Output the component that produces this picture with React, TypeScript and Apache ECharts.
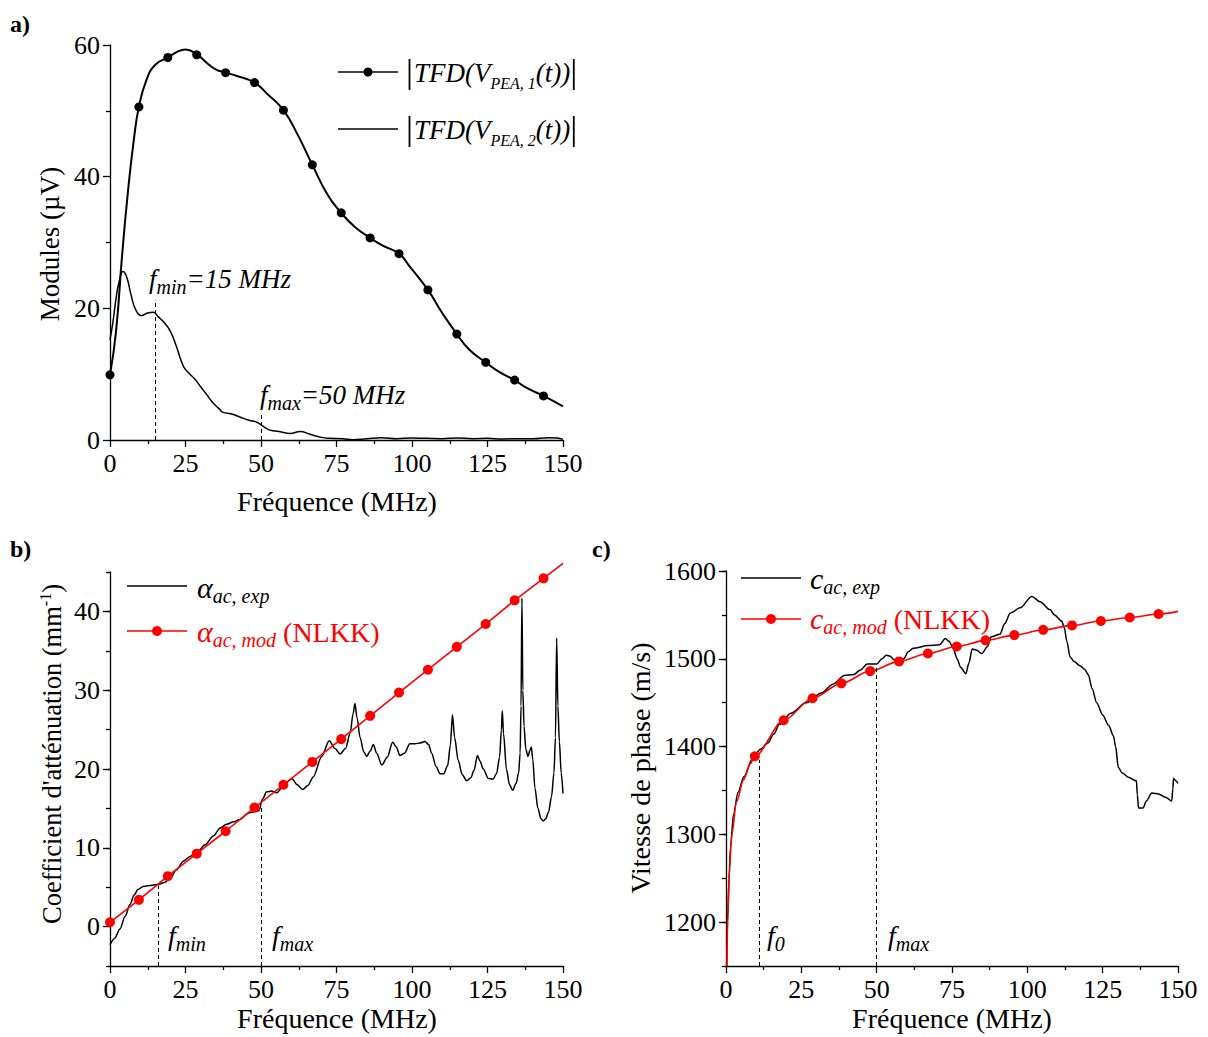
import React, { useEffect, useRef } from "react";
import * as echarts from "echarts";

const FONT = "'Liberation Serif', 'Times New Roman', Times, serif";
const RED = "#ff0000";
const BLACK = "#000000";

// ---------- shared: frequency of the symbol markers (MHz)
const markX = [0, 9.57, 19.14, 28.71, 38.28, 47.85, 57.42, 66.99, 76.56, 86.13, 95.7, 105.27, 114.84, 124.41, 133.98, 143.55];

// ---------- a) |TFD(V_PEA,1)| and |TFD(V_PEA,2)| (µV)
const aMarkY1 = [9.9, 50.6, 58.1, 58.5, 55.8, 54.3, 50.1, 41.8, 34.5, 30.7, 28.3, 22.8, 16.1, 11.8, 9.1, 6.7];
const aCurve1: [number, number][] = [
  [0, 9.9], [2, 16.5], [4, 28], [6, 38], [8, 46], [9.57, 50.6], [12, 54.6], [15, 57], [19.14, 58.1], [22, 58.9],
  [25, 59.3], [28.71, 58.6], [32, 57.3], [35, 56.3], [38.28, 55.8], [42, 55.3], [47.85, 54.3], [52, 52.6],
  [57.42, 50.1], [62, 46.5], [66.99, 41.8], [72, 37.3], [76.56, 34.5], [81, 32.4], [86.13, 30.7], [90, 29.6],
  [95.7, 28.3], [99, 26.5], [105.27, 22.8], [110, 19.3], [114.84, 16.1], [119, 13.7], [124.41, 11.8], [129, 10.3],
  [133.98, 9.1], [138, 7.9], [143.55, 6.7], [150, 5.1],
];
const aCurve2: [number, number][] = [
  [0, 15.2], [1, 18], [2, 21.5], [3, 24], [4.3, 25.6], [5.5, 24.8], [7, 22], [8.5, 19.8], [10.5, 18.9], [12.5, 19.3],
  [14.3, 19.4], [16, 18.7], [18, 17.8], [20, 16.5], [22, 14.2], [24.3, 11.2], [26, 10.2], [28, 9.3], [30, 8.1],
  [32, 6.9], [34, 5.7], [36, 4.8], [37.5, 4.2], [40, 4.0], [43, 3.5], [46, 3.0], [48.6, 2.7], [51, 2.0], [53, 1.5],
  [56, 1.3], [59.6, 1.0], [63, 1.3], [66, 0.9], [70, 0.4], [73, 0.26], [77, 0.2], [80.5, 0.05], [85, 0.2], [90, 0.35],
  [95, 0.2], [100, 0.3], [105, 0.25], [110, 0.2], [115, 0.3], [120, 0.2], [125, 0.25], [130, 0.15], [135, 0.2],
  [140, 0.2], [145, 0.35], [148, 0.3], [150, 0.1],
];
const aGuides: [number, number][] = [[15, 21.3], [50, 4.3]];

// ---------- b) attenuation coefficient (mm^-1)
const bExp: [number, number][] = [
  [0, -2.3], [1.5, -1.5], [3.3, -0.3], [5, 1.3], [6.6, 2.8], [8, 4.0], [9.2, 4.7], [11, 5.1], [14, 5.25], [16, 5.35],
  [18, 5.6], [19.9, 6.1], [22, 7.2], [24.3, 8.3], [26.5, 8.9], [28.7, 9.4], [31.5, 10.4], [34.2, 11.5], [36.5, 12.5],
  [38.6, 13.0], [41, 13.3], [43, 13.6], [45.8, 14.4], [48, 14.6], [49.3, 14.7], [50.5, 16.2], [51.9, 17.1],
  [53.5, 17.2], [55.2, 17.0], [57.9, 18.1], [60.2, 18.8], [62, 18.0], [63.8, 17.4], [65.5, 17.9], [67.3, 19.0],
  [70.1, 21.6], [72.6, 23.6], [74.5, 22.6], [76.2, 21.9], [78, 22.6], [79.5, 24.5], [80.5, 27], [81.1, 28.3],
  [81.8, 26.5], [82.8, 24.0], [84, 22.2], [85, 21.6], [86.2, 22.3], [87.2, 23.1], [88.3, 22.0], [90, 20.5],
  [91.8, 21.5], [93.6, 23.4], [94.8, 22.8], [96, 21.7], [97.5, 22.0], [99.3, 23.2], [101, 23.2], [102.6, 23.3],
  [104.3, 23.5], [105.5, 23.1], [106.5, 22.0], [108, 20.3], [109.3, 19.4], [110.5, 19.4], [111.8, 20.4],
  [112.7, 23], [113.4, 26.9], [114.1, 24], [115.3, 21.1], [116.6, 19.3], [118.1, 18.5], [119.5, 18.9],
  [120.5, 19.8], [121.7, 21.7], [122.5, 21.0], [123.6, 20.0], [125.3, 18.8], [126.8, 18.7], [128, 19.4],
  [129, 21.5], [129.6, 25], [129.9, 27.4], [130.3, 24.5], [131.3, 19.9], [132.3, 18.0], [133.3, 17.3],
  [134.5, 18.2], [135.3, 19.5], [135.8, 22], [136.1, 28], [136.4, 41.7], [136.7, 30], [137.1, 25.4],
  [137.7, 22.5], [138.4, 21.6], [139.1, 22.4], [139.5, 22.8], [140, 21.2], [140.7, 17.6], [141.7, 15],
  [142.7, 13.7], [143.5, 13.4], [144.3, 13.7], [145.2, 14.5], [146.2, 16.5], [147, 19.5], [147.5, 24],
  [147.9, 36.6], [148.3, 28], [148.8, 23.5], [149.4, 19.5], [150, 16.9],
];
const bModMarkY = [0.55, 3.4, 6.4, 9.26, 12.1, 15.1, 18.0, 20.9, 23.8, 26.75, 29.7, 32.6, 35.5, 38.4, 41.4, 44.2];
const bModEnd: [number, number] = [150, 46.1];
const bGuides: [number, number][] = [[16, 5.2], [50, 15.2]];

// ---------- c) phase velocity (m/s)
const cExp: [number, number][] = [
  [0.2, 1150], [0.5, 1200], [1, 1250], [1.5, 1285], [2.5, 1323], [4, 1348], [6, 1366], [8.9, 1387], [11.4, 1397],
  [13.9, 1404], [15.8, 1414], [17.7, 1425], [21.5, 1438], [26.6, 1450], [31.7, 1461], [35.5, 1471], [39.3, 1481],
  [42.4, 1482], [44.5, 1487], [46.9, 1494], [50, 1494], [51.8, 1500], [53.2, 1504], [54.5, 1503], [55.7, 1499],
  [57.5, 1497], [59, 1500], [60.5, 1508], [62.1, 1512], [67.1, 1515], [70.9, 1516], [72.8, 1523], [74, 1520],
  [75.4, 1512], [76.7, 1500], [77.9, 1490], [79.6, 1483], [80.6, 1495], [81.7, 1511], [83, 1510], [84.9, 1506],
  [86.8, 1514], [88, 1525], [90.9, 1528], [92.5, 1540], [94.3, 1552], [97.6, 1558], [101.5, 1571], [104.2, 1565],
  [107.5, 1556], [109, 1550], [111.4, 1543], [112.3, 1535], [113.1, 1520], [114.2, 1502], [115.5, 1497],
  [117.5, 1492], [119, 1488], [120.2, 1482], [121.5, 1466], [123, 1450], [125, 1436], [127, 1424], [128.6, 1412],
  [129.3, 1400], [130.2, 1376], [131.5, 1370], [133.5, 1365], [136.2, 1361], [136.5, 1345], [136.9, 1330],
  [138.4, 1330], [139.5, 1338], [141.3, 1347], [143.5, 1346], [146, 1342], [147.9, 1338], [148.3, 1352],
  [148.5, 1364], [149.2, 1361], [150, 1358],
];
const cModStart: [number, number][] = [[0.3, 1150], [0.6, 1208], [1.2, 1262], [1.9, 1300], [3.5, 1337], [5.8, 1362], [8, 1380]];
const cModMarkY = [1389, 1430, 1455, 1472, 1486, 1497, 1506, 1514, 1521, 1527, 1533, 1538, 1543, 1547, 1551];
const cModEnd: [number, number] = [150, 1554];
const cGuides: [number, number][] = [[11, 1385], [50, 1490]];

// ---------- derived series data
const aMarks1 = markX.map((x, i) => [x, aMarkY1[i]]);
const bMarks = markX.map((x, i) => [x, bModMarkY[i]]);
const bModCurve = [...bMarks, bModEnd];
const cMarks = markX.slice(1).map((x, i) => [x, cModMarkY[i]]);
const cModCurve = [...cModStart, ...cMarks, cModEnd];

// ---------- text helpers
let mctx: CanvasRenderingContext2D | null = null;
function tw(t: string, s: number, it = false, bold = false): number {
  if (!mctx) mctx = document.createElement("canvas").getContext("2d");
  mctx!.font = `${it ? "italic " : ""}${bold ? "bold " : ""}${s}px 'Liberation Serif'`;
  return mctx!.measureText(t).width;
}
function txt(x: number, base: number, text: string, s: number, o: { i?: boolean; b?: boolean; color?: string; align?: string } = {}) {
  const align = o.align || "left";
  return {
    type: "text",
    x,
    y: base - 0.31 * s,
    silent: true,
    z: 100,
    style: {
      text,
      fontSize: s,
      fontFamily: FONT,
      fontStyle: o.i ? "italic" : "normal",
      fontWeight: o.b ? "bold" : "normal",
      fill: o.color || BLACK,
      align,
      verticalAlign: "middle",
      textAlign: align,
      textVerticalAlign: "middle",
    },
  };
}
type Seg = { t?: string; s: number; i?: boolean; dy?: number; bar?: boolean };
function runW(segs: Seg[]) {
  return segs.reduce((w, g) => w + (g.bar ? 8 : tw(g.t || "", g.s, !!g.i)), 0);
}
function run(x0: number, base: number, segs: Seg[], color: string) {
  const els: any[] = [];
  let x = x0;
  for (const g of segs) {
    if (g.bar) {
      els.push({
        type: "line", silent: true, z: 100,
        shape: { x1: x + 3.5, y1: base - 22, x2: x + 3.5, y2: base + 9 },
        style: { stroke: color, lineWidth: 1.8 },
      });
      x += 8;
      continue;
    }
    els.push(txt(x, base + (g.dy || 0), g.t || "", g.s, { i: g.i, color }));
    x += tw(g.t || "", g.s, !!g.i);
  }
  return els;
}
function legLine(x1: number, x2: number, y: number, color: string, marker: number) {
  const els: any[] = [{ type: "line", silent: true, z: 100, shape: { x1, y1: y, x2, y2: y }, style: { stroke: color, lineWidth: 1.5 } }];
  if (marker > 0) els.push({ type: "circle", silent: true, z: 101, shape: { cx: (x1 + x2) / 2, cy: y, r: marker }, style: { fill: color } });
  return els;
}

function buildGraphic() {
  const g: any[] = [];
  // panel labels
  g.push(txt(10, 31, "a)", 24, { b: true }));
  g.push(txt(10, 556, "b)", 24, { b: true }));
  g.push(txt(592, 556, "c)", 24, { b: true }));
  // x titles
  g.push(txt(337, 510, "Fréquence (MHz)", 28, { align: "center" }));
  g.push(txt(337, 1027, "Fréquence (MHz)", 28, { align: "center" }));
  g.push(txt(952, 1027, "Fréquence (MHz)", 28, { align: "center" }));
  // y titles
  g.push({ ...txt(50, 0, "Modules (µV)", 27, { align: "center" }), x: 50, y: 244, rotation: Math.PI / 2 });
  g.push({ ...txt(640, 0, "Vitesse de phase (m/s)", 28, { align: "center" }), x: 640, y: 768, rotation: Math.PI / 2 });
  const bt: Seg[] = [{ t: "Coefficient d'atténuation (mm", s: 26.5 }, { t: "-1", s: 16, dy: -10 }, { t: ")", s: 26.5 }];
  const bw = runW(bt);
  g.push({ type: "group", x: 52, y: 754, rotation: Math.PI / 2, silent: true, children: run(-bw / 2, 0.31 * 26.5, bt, BLACK) });

  // legend a
  g.push(...legLine(338, 398, 72, BLACK, 4.5));
  g.push(...legLine(338, 398, 129, BLACK, 0));
  const la1: Seg[] = [{ bar: true, s: 27 }, { t: "TFD(V", s: 27, i: true }, { t: "PEA, 1", s: 16, i: true, dy: 7 }, { t: "(t))", s: 27, i: true }, { bar: true, s: 27 }];
  const la2: Seg[] = [{ bar: true, s: 27 }, { t: "TFD(V", s: 27, i: true }, { t: "PEA, 2", s: 16, i: true, dy: 7 }, { t: "(t))", s: 27, i: true }, { bar: true, s: 27 }];
  g.push(...run(406, 81, la1, BLACK));
  g.push(...run(406, 138, la2, BLACK));

  // legend b
  g.push(...legLine(127, 187, 586, BLACK, 0));
  g.push(...legLine(127, 187, 631, RED, 5));
  g.push(...run(197, 597, [{ t: "α", s: 30, i: true }, { t: "ac, exp", s: 20, i: true, dy: 5 }], BLACK));
  g.push(...run(197, 641, [{ t: "α", s: 30, i: true }, { t: "ac, mod", s: 20, i: true, dy: 5 }, { t: " (NLKK)", s: 28 }], RED));

  // legend c
  g.push(...legLine(741, 801, 578, BLACK, 0));
  g.push(...legLine(741, 801, 619, RED, 5));
  g.push(...run(810, 588, [{ t: "c", s: 30, i: true }, { t: "ac, exp", s: 20, i: true, dy: 5 }], BLACK));
  g.push(...run(810, 628, [{ t: "c", s: 30, i: true }, { t: "ac, mod", s: 20, i: true, dy: 5 }, { t: " (NLKK)", s: 28 }], RED));

  // annotations a
  g.push(...run(149, 287, [{ t: "f", s: 27, i: true }, { t: "min", s: 20, i: true, dy: 6 }, { t: "=15 MHz", s: 27, i: true }], BLACK));
  g.push(...run(260, 403, [{ t: "f", s: 27, i: true }, { t: "max", s: 20, i: true, dy: 6 }, { t: "=50 MHz", s: 27, i: true }], BLACK));
  // annotations b
  g.push(...run(168, 944, [{ t: "f", s: 28, i: true }, { t: "min", s: 20, i: true, dy: 6 }], BLACK));
  g.push(...run(272, 944, [{ t: "f", s: 28, i: true }, { t: "max", s: 20, i: true, dy: 6 }], BLACK));
  // annotations c
  g.push(...run(767, 944, [{ t: "f", s: 28, i: true }, { t: "0", s: 20, i: true, dy: 6 }], BLACK));
  g.push(...run(888, 944, [{ t: "f", s: 28, i: true }, { t: "max", s: 20, i: true, dy: 6 }], BLACK));
  return g;
}

// ---------- axes
const axLine = { show: true, onZero: false, lineStyle: { color: BLACK, width: 1.3 } };
function xAx(gi: number) {
  return {
    type: "value", gridIndex: gi, min: 0, max: 150, interval: 25,
    axisLine: axLine,
    axisTick: { show: true, length: 7, lineStyle: { color: BLACK, width: 1.3 } },
    minorTick: { show: true, splitNumber: 2, length: 4, lineStyle: { color: BLACK, width: 1.3 } },
    splitLine: { show: false }, minorSplitLine: { show: false },
    axisLabel: { color: BLACK, fontSize: 26, fontFamily: FONT, margin: 10 },
  };
}
function yBase(gi: number, min: number, max: number, interval: number, labelEvery: number, tickLen: number) {
  return {
    type: "value", gridIndex: gi, min, max, interval,
    axisLine: axLine,
    axisTick: { show: true, length: tickLen, lineStyle: { color: BLACK, width: 1.3 } },
    splitLine: { show: false },
    axisLabel: {
      color: BLACK, fontSize: 26, fontFamily: FONT, margin: 10,
      formatter: (v: number) => (Math.abs(v % labelEvery) < 1e-6 ? String(v) : ""),
    },
  };
}
function yOver(gi: number, min: number, max: number, interval: number, vals: number[]) {
  return {
    type: "value", gridIndex: gi, min, max, interval, position: "left",
    axisLine: { show: false, onZero: false },
    axisTick: { show: true, length: 7, customValues: vals, lineStyle: { color: BLACK, width: 1.3 } },
    splitLine: { show: false },
    axisLabel: { show: false },
  };
}

// ---------- series helpers
function lineS(data: any[], xi: number, yi: number, color: string, width: number, extra: any = {}) {
  return {
    type: "line", xAxisIndex: xi, yAxisIndex: yi, data, showSymbol: false, symbol: "none",
    smooth: 0.3, smoothMonotone: "x", lineStyle: { color, width }, itemStyle: { color },
    silent: true, emphasis: { disabled: true }, z: 2, ...extra,
  };
}
function markS(data: any[], xi: number, yi: number, color: string, size: number) {
  return {
    type: "scatter", xAxisIndex: xi, yAxisIndex: yi, data, symbol: "circle", symbolSize: size,
    itemStyle: { color, opacity: 1 }, silent: true, emphasis: { disabled: true }, z: 3, clip: false,
  };
}
function guideML(pts: [number, number][], ymin: number) {
  return {
    silent: true, symbol: ["none", "none"], label: { show: false }, emphasis: { disabled: true },
    lineStyle: { color: BLACK, width: 1, type: [4, 3] },
    data: pts.map(([x, y]) => [{ coord: [x, ymin] }, { coord: [x, y] }]),
  };
}

export default function App() {
  const ref = useRef<HTMLDivElement>(null);
  useEffect(() => {
    if (!ref.current) return;
    const chart = echarts.init(ref.current, null, { renderer: "svg" });
    chart.setOption({
      animation: false,
      backgroundColor: "#ffffff",
      textStyle: { fontFamily: FONT },
      grid: [
        { left: 110, top: 45, width: 453, height: 395 },
        { left: 110, top: 572, width: 453, height: 394 },
        { left: 726, top: 571, width: 452, height: 395 },
      ],
      xAxis: [xAx(0), xAx(1), xAx(2)],
      yAxis: [
        { ...yBase(0, 0, 60, 20, 20, 7), minorTick: { show: true, splitNumber: 2, length: 4, lineStyle: { color: BLACK, width: 1.3 } } },
        yBase(1, -5, 45, 5, 10, 4),
        yOver(1, -5, 45, 5, [0, 10, 20, 30, 40]),
        yBase(2, 1150, 1600, 50, 100, 4),
        yOver(2, 1150, 1600, 50, [1200, 1300, 1400, 1500, 1600]),
      ],
      series: [
        lineS(aCurve1, 0, 0, BLACK, 2, { smooth: 0.5, smoothMonotone: undefined }),
        markS(aMarks1, 0, 0, BLACK, 9),
        lineS(aCurve2, 0, 0, BLACK, 1.5, { smooth: 0.5, smoothMonotone: undefined, markLine: guideML(aGuides, 0) }),
        lineS(bExp, 1, 1, BLACK, 1.5, { markLine: guideML(bGuides, -5) }),
        lineS(bModCurve, 1, 1, RED, 1.6, { clip: false, smooth: false }),
        markS(bMarks, 1, 1, RED, 10),
        lineS(cExp, 2, 3, BLACK, 1.5, { markLine: guideML(cGuides, 1150) }),
        lineS(cModCurve, 2, 3, RED, 1.6),
        markS(cMarks, 2, 3, RED, 10),
      ],
      graphic: buildGraphic(),
    });
    return () => chart.dispose();
  }, []);
  return (
    <div
      ref={ref}
      style={{ position: "fixed", left: 0, top: 0, width: 1208, height: 1037, background: "#fff" }}
    />
  );
}
